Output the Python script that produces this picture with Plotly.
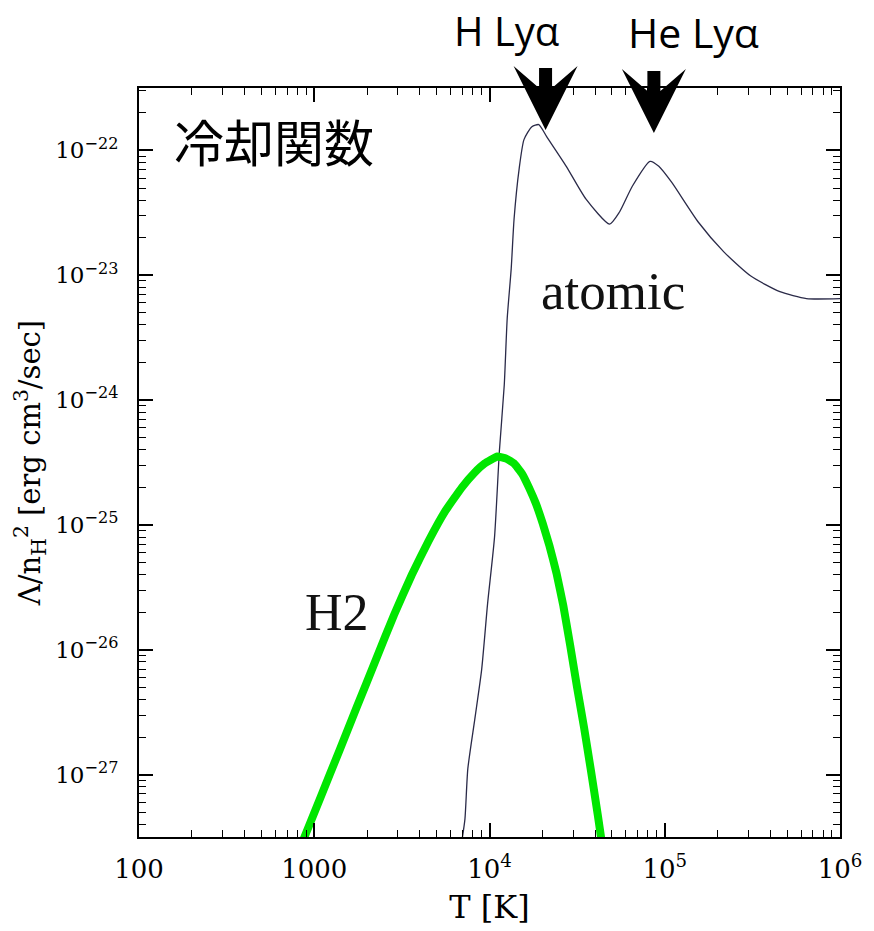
import plotly.graph_objects as go

# ---- data ----
atomic_T = [6970, 7244, 7520, 8240, 9020, 9750, 10680, 11390, 12140, 12620, 13300, 13810,
            14750, 15730, 17450, 19110, 21190, 27420, 35550, 48450, 55200, 65300, 82400,
            92500, 109400, 155200, 217300, 308300, 454000, 644000, 1.0e6]
atomic_L = [3.0e-28, 4.42e-28, 1.11e-27, 2.77e-27, 6.93e-27, 2.33e-26, 7.94e-26, 3.93e-25,
            1.32e-24, 4.50e-24, 1.13e-23, 2.82e-23, 7.06e-23, 1.22e-22, 1.55e-22, 1.61e-22,
            1.29e-22, 7.46e-23, 4.07e-23, 2.57e-23, 3.21e-23, 5.16e-23, 8.17e-23, 7.46e-23,
            5.56e-23, 2.67e-23, 1.54e-23, 9.9e-24, 7.39e-24, 6.5e-24, 6.5e-24]

h2_T = [856, 1081, 1400, 1744, 2259, 2852, 3599, 4484, 5588, 6963, 8236, 9374, 11090,
        12460, 13820, 15320, 16780, 18370, 20110, 22010, 24100, 26380, 28880, 31620,
        34620, 37900, 41500, 43700]
h2_L = [2.88e-28, 6.47e-28, 1.59e-27, 3.44e-27, 8.48e-27, 1.90e-26, 3.97e-26, 7.41e-26,
        1.29e-25, 2.00e-25, 2.63e-25, 3.10e-25, 3.53e-25, 3.40e-25, 3.10e-25, 2.58e-25,
        2.00e-25, 1.49e-25, 1.03e-25, 6.76e-26, 4.12e-26, 2.25e-26, 1.08e-26, 4.98e-27,
        2.39e-27, 1.08e-27, 4.74e-28, 2.88e-28]

x_tickvals = [100, 1000, 1e4, 1e5, 1e6]
x_ticktext = ["100", "1000", "10<sup>4</sup>", "10<sup>5</sup>", "10<sup>6</sup>"]
y_tickvals = [1e-27, 1e-26, 1e-25, 1e-24, 1e-23, 1e-22]
y_ticktext = ["10<sup>\u221227</sup>", "10<sup>\u221226</sup>", "10<sup>\u221225</sup>",
              "10<sup>\u221224</sup>", "10<sup>\u221223</sup>", "10<sup>\u221222</sup>"]

line_names = ["H Lyα", "He Lyα"]
line_T = [20890, 86700]

# ---- figure ----
fig = go.Figure()
fig.add_trace(go.Scatter(x=atomic_T, y=atomic_L, mode="lines",
                         line=dict(color="#2a2a48", width=1.3, shape="spline", smoothing=0.6),
                         hoverinfo="skip", showlegend=False))
fig.add_trace(go.Scatter(x=h2_T, y=h2_L, mode="lines",
                         line=dict(color="#00e600", width=8, shape="spline", smoothing=0.3),
                         hoverinfo="skip", showlegend=False))

axis_common = dict(type="log", showline=True, linewidth=2, linecolor="black",
                   mirror="allticks", ticks="inside", ticklen=14, tickwidth=1.5,
                   tickcolor="black", showgrid=False, zeroline=False,
                   minor=dict(ticks="inside", ticklen=7, tickwidth=1, tickcolor="black",
                              dtick="D1", showgrid=False))

fig.update_xaxes(range=[2, 6], tickvals=x_tickvals, ticktext=x_ticktext,
                 ticklabelstandoff=8,
                 tickfont=dict(family="DejaVu Serif", size=26, color="black"),
                 title=dict(text="T [K]", font=dict(family="DejaVu Serif", size=32, color="black"),
                            standoff=12),
                 **axis_common)
fig.update_yaxes(range=[-27.5, -21.5], tickvals=y_tickvals, ticktext=y_ticktext,
                 ticklabelstandoff=14,
                 tickfont=dict(family="DejaVu Serif", size=23, color="black"),
                 title=dict(text="Λ/n<sub>H</sub><sup>2</sup> [erg cm<sup>3</sup>/sec]",
                            font=dict(family="DejaVu Serif", size=29, color="black"),
                            standoff=6),
                 **axis_common)

# arrows for the Lyman-alpha peaks
arrow_path = "M 0,0 L -32,64 L -6.5,42 L -6.5,62 L 6.5,62 L 6.5,42 L 32,64 Z"
for T, yy in zip(line_T, [0.944, 0.940]):
    fig.add_shape(type="path", xref="x", yref="paper", xsizemode="pixel", ysizemode="pixel",
                  xanchor=T, yanchor=yy, path=arrow_path,
                  fillcolor="black", line=dict(color="black", width=0))

ann = dict(xref="paper", yref="paper", showarrow=False, xanchor="center", yanchor="middle")
fig.add_annotation(text="H Lyα", x=0.524, y=1.0772,
                   font=dict(family="Open Sans", size=40, color="black"), **ann)
fig.add_annotation(text="He Lyα", x=0.791, y=1.0745,
                   font=dict(family="Open Sans", size=41, color="black"), **ann)
fig.add_annotation(text="冷却関数", x=0.1924, y=0.9309,
                   font=dict(family="Noto Sans CJK JP", size=50, color="black"), **ann)
fig.add_annotation(text="atomic", x=0.6756, y=0.7287,
                   font=dict(family="Liberation Serif", size=53, color="#111111"), **ann)
fig.add_annotation(text="H2", x=0.2823, y=0.2992,
                   font=dict(family="Liberation Serif", size=52, color="#111111"), **ann)

fig.update_layout(width=874, height=931, margin=dict(l=139, r=23, t=88, b=91),
                  paper_bgcolor="white", plot_bgcolor="white", showlegend=False)

# remove the browser's default 8px page margin so the figure fills the window exactly
fig.write_html("out.html", config={"displayModeBar": False},
               post_script="document.body.style.margin='0';")
